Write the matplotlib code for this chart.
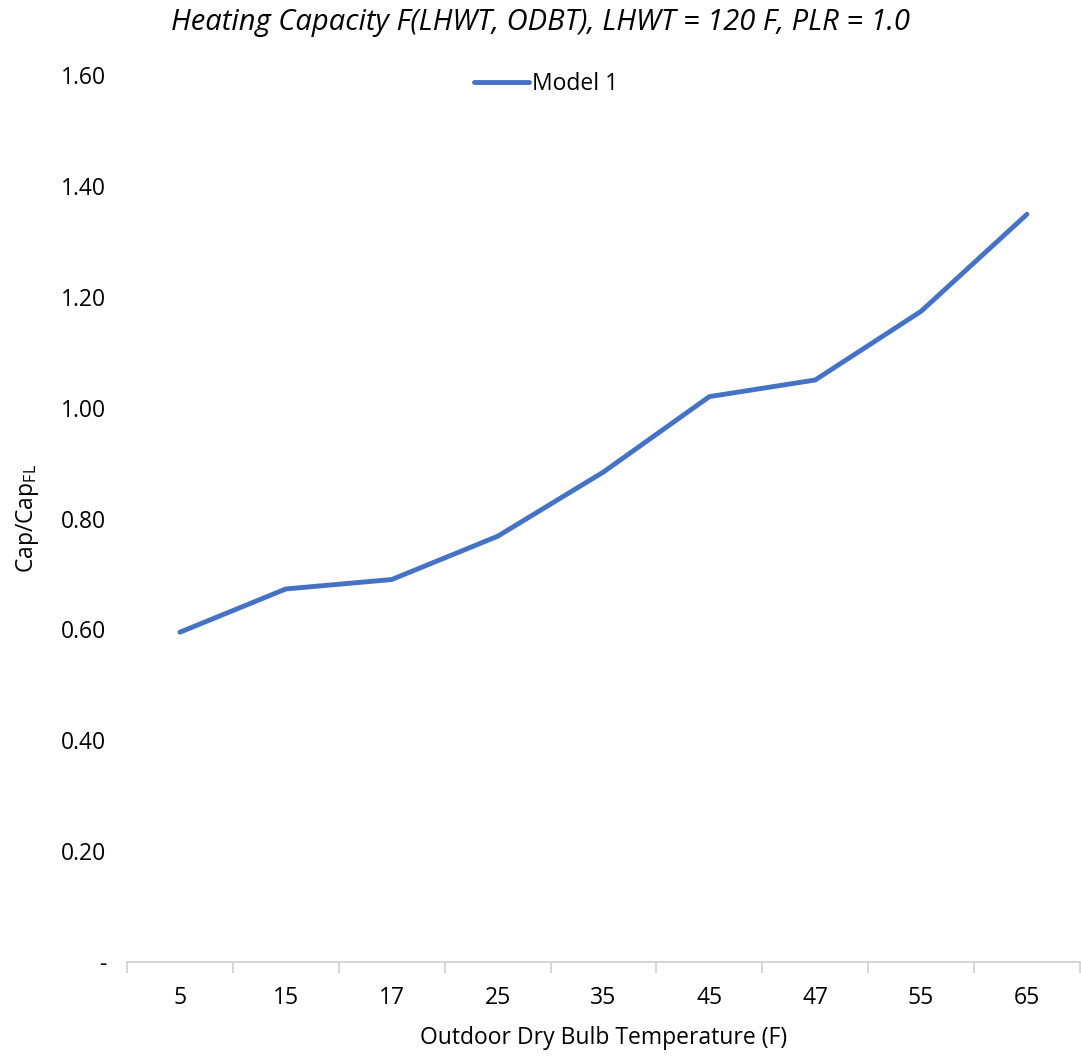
import matplotlib.pyplot as plt
import numpy as np

plt.rcParams['font.family'] = ['Open Sans', 'DejaVu Sans']

odbt = ['5', '15', '17', '25', '35', '45', '47', '55', '65']
model1 = [0.595, 0.673, 0.690, 0.768, 0.884, 1.020, 1.050, 1.174, 1.349]
yticks = [0, 0.2, 0.4, 0.6, 0.8, 1.0, 1.2, 1.4, 1.6]
ytick_labels = ['-', '0.20', '0.40', '0.60', '0.80', '1.00', '1.20', '1.40', '1.60']

fig = plt.figure(figsize=(10.81, 10.57), dpi=100)
ax = fig.add_axes([0.1175, 0.0899, 0.8815, 0.839])

x = np.arange(len(odbt))
ax.plot(x, model1, color='#4472C4', lw=3.5, solid_capstyle='round', label='Model 1')

ax.set_xlim(-0.5, len(odbt) - 0.5)
ax.set_ylim(0, 1.6)
ax.set_xticks(x)
ax.set_xticklabels(odbt, fontsize=16.5)
ax.set_xticks(np.arange(-0.5, len(odbt)), minor=True)
ax.tick_params(axis='x', which='major', length=0, pad=17)
ax.tick_params(axis='x', which='minor', length=8, color='#d0d0d0', width=1.2)
ax.set_yticks(yticks)
ax.set_yticklabels(ytick_labels, fontsize=16.5)
ax.tick_params(axis='y', length=0, pad=15)

for s in ['top', 'right', 'left']:
    ax.spines[s].set_visible(False)
ax.spines['bottom'].set_color('#d0d0d0')
ax.spines['bottom'].set_linewidth(1.2)

ax.set_xlabel('Outdoor Dry Bulb Temperature (F)', fontsize=16.5, labelpad=12)
ax.set_ylabel('Cap/Cap$_{\\mathregular{FL}}$', fontsize=16.5, labelpad=14)

fig.text(0.5, 0.979, 'Heating Capacity F(LHWT, ODBT), LHWT = 120 F, PLR = 1.0',
         ha='center', va='center', fontsize=21, style='italic')

fig.legend(*ax.get_legend_handles_labels(), loc='center',
           bbox_to_anchor=(546 / 1081, 1 - 84 / 1057), frameon=False,
           fontsize=16.5, handlelength=2.4, handletextpad=0.15)

fig.savefig('out.png', dpi=100)
